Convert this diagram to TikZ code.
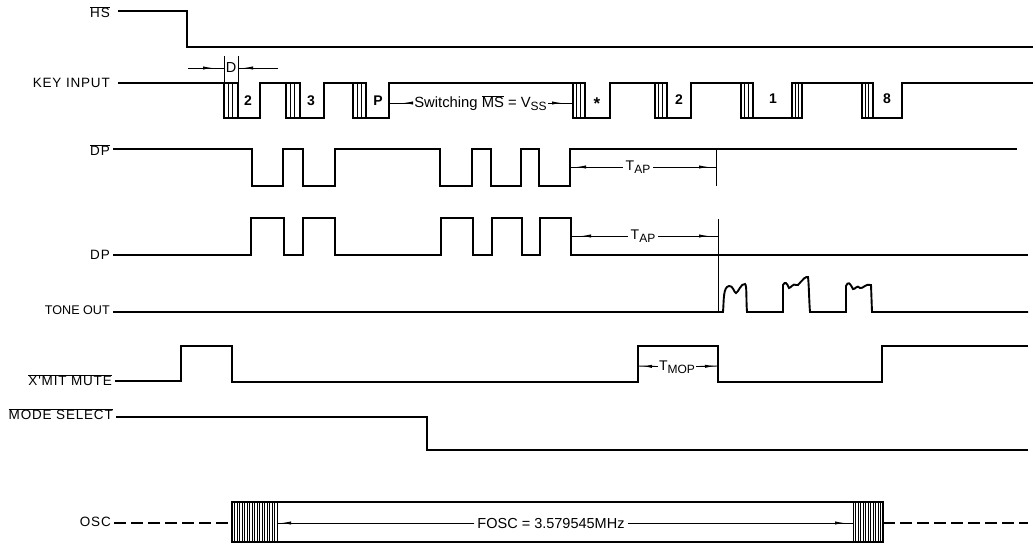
\documentclass[tikz,border=0pt]{standalone}
\usepackage{fontspec}
\setmainfont{Liberation Sans}
\newfontfamily\lblfont[LetterSpace=6]{Liberation Sans}
\usetikzlibrary{arrows.meta,decorations.markings,calc}
\newcommand{\ovl}[1]{$\overline{\hbox{#1}}$}
\newcommand{\lowtxt}[1]{\raisebox{-2.5pt}{\fontsize{12}{12}\selectfont #1}}
\newcommand{\hatchbox}[2]{%
  \draw[wave] (#1,83) rectangle (#2,118);
  \draw[hatch] ($(#1,83)!0.33!(#2,83)$) -- ($(#1,118)!0.33!(#2,118)$);
  \draw[hatch] ($(#1,83)!0.62!(#2,83)$) -- ($(#1,118)!0.62!(#2,118)$);
}
\begin{document}
\begin{tikzpicture}[
              x=1pt, y=-1pt,
              wave/.style={line width=1.9pt, line join=miter},
              thinline/.style={line width=0.9pt},
              hatch/.style={line width=1pt},
              dimline/.style={line width=0.9pt, postaction={decorate},
                decoration={markings, mark=at position #1 with {\arrow{Latex[length=10pt,width=3.2pt]}}}},
              dimline/.default=-6pt,
              lbl/.style={anchor=east, inner xsep=3pt, inner ysep=0pt, font=\fontsize{13.5}{15}\lblfont},
              txt/.style={inner sep=1pt, font=\fontsize{14}{16}\selectfont},
              digit/.style={inner sep=0pt, font=\fontsize{14}{16}\selectfont\bfseries}
            ]
              \useasboundingbox (0,0) rectangle (1033,544);

              % Signal names
              \node[lbl] (lblhs) at (113,12) {\ovl{HS}};
              \node[lbl] (lblkey) at (113,83) {KEY INPUT};
              \node[lbl] (lbldpn) at (113,150) {\ovl{DP}};
              \node[lbl] (lbldp) at (113,255) {DP};
              \node[lbl, font=\fontsize{12.6}{15}\selectfont] (lbltone) at (113,310) {TONE OUT};
              \node[lbl] (lblmute) at (115,380) {\ovl{X'MIT MUTE}};
              \node[lbl] (lblmode) at (116,414) {\ovl{MODE SELECT}};
              \node[lbl] (lblosc) at (114,522) {OSC};

              % Waveforms
              \draw[wave] ([xshift=5pt]lblhs.east |- 0,11) -- (187,11) -- (187,47) -- (1033,47);
              \draw[wave] ([xshift=5pt]lblkey.east) -- (224,83) -- (224,118) -- (260,118) -- (260,83)
                -- (286,83) -- (286,118) -- (324,118) -- (324,83) -- (353,83) -- (353,118) -- (389,118)
                -- (389,83) -- (573,83) -- (573,118) -- (610,118) -- (610,83) -- (655,83) -- (655,118)
                -- (691,118) -- (691,83) -- (741,83) -- (741,118) -- (802,118) -- (802,83) -- (862,83)
                -- (862,118) -- (902,118) -- (902,83) -- (1033,83);
              \draw[wave] (lbldpn.east |- 0,149) -- (252,149) -- (252,186) -- (283,186) -- (283,149)
                -- (303,149) -- (303,186) -- (335,186) -- (335,149) -- (440,149) -- (440,186) -- (472,186)
                -- (472,149) -- (491,149) -- (491,186) -- (521,186) -- (521,149) -- (539,149) -- (539,186)
                -- (570,186) -- (570,149) -- (1017,149);
              \draw[wave] (lbldp.east) -- (251,255) -- (251,218) -- (284,218) -- (284,255) -- (303,255)
                -- (303,218) -- (335,218) -- (335,255) -- (441,255) -- (441,218) -- (473,218) -- (473,255)
                -- (492,255) -- (492,218) -- (522,218) -- (522,255) -- (540,255) -- (540,218) -- (571,218)
                -- (571,255) -- (1028,255);
              \draw[wave] (lbltone.east |- 0,312) -- (723,312)
                .. controls (724,300) and (723,287) .. (729,286)
                .. controls (733,285) and (734,293) .. (736,293)
                .. controls (738,293) and (741,283) .. (745,284)
                .. controls (747,285) and (746,300) .. (747,312) -- (783,312) -- (783,285)
                .. controls (785,281) and (787,283) .. (789,288)
                .. controls (791,288) and (793,283) .. (796,285)
                .. controls (798,288) and (803,276) .. (808,277)
                .. controls (809,285) and (809,300) .. (810,312) -- (846,312) -- (846,286)
                .. controls (848,281) and (850,283) .. (853,289)
                .. controls (855,290) and (857,284) .. (860,288)
                .. controls (863,289) and (866,283) .. (871,285) -- (872,312) -- (1028,312);
              \draw[wave] (lblmute.east |- 0,381) -- (181,381) -- (181,346) -- (232,346) -- (232,382)
                -- (638,382) -- (638,346) -- (718,346) -- (718,382) -- (882,382) -- (882,346) -- (1028,346);
              \draw[wave] (lblmode.east |- 0,417) -- (427,417) -- (427,450) -- (1028,450);

              % Debounce hatching on the key input
              \hatchbox{224}{238}
              \hatchbox{286}{300}
              \hatchbox{353}{366}
              \hatchbox{573}{585}
              \hatchbox{655}{667}
              \hatchbox{741}{753}
              \hatchbox{792}{802}
              \hatchbox{862}{873}

              % Digits under the key input
              \node[digit] (d2) at (248,101) {2};
              \node[digit] (d3) at (311,101) {3};
              \node[digit] (dP) at (378,101) {P};
              \node[digit, font=\fontsize{17}{18}\selectfont\bfseries] (dstar) at (597,104) {*};
              \node[digit] (d2b) at (679,100) {2};
              \node[digit] (d1) at (773,99) {1};
              \node[digit] (d8) at (887,99) {8};

              % Debounce time
              \node[inner sep=0pt, font=\fontsize{14.5}{16}\selectfont] (dlabel) at (231,68) {D};
              \coordinate (dl) at (224,68);
              \coordinate (dr) at (238,68);
              \coordinate (dlout) at (188,68);
              \coordinate (drout) at (278,68);
              \draw[thinline] (224,56) -- (224,83);
              \draw[thinline] (238,56) -- (238,83);
              \draw[dimline=-11pt] (dlout) -- (dl);
              \draw[dimline=-5pt] (drout) -- (dr);

              % Switching span
              \node[txt, font=\fontsize{14.8}{16}\selectfont] (switching) at (480.5,103) {Switching \ovl{MS} = V\lowtxt{SS}};
              \coordinate (swl) at (389,103);
              \coordinate (swr) at (573,103);
              \draw[dimline=-14pt] (switching) -- (swl);
              \draw[dimline=-11pt] (switching) -- (swr);

              % Tone delay spans
              \node[txt, inner xsep=3pt] (tapa) at (638,167) {T\lowtxt{AP}};
              \coordinate (tapal) at (570,167);
              \coordinate (tapar) at (716,167);
              \draw[dimline=-6pt] (tapa) -- (tapal);
              \draw[dimline=-7pt] (tapa) -- (tapar);
              \draw[thinline] (716,149) -- (716,186);

              \node[txt, inner xsep=3pt] (tapb) at (643,236) {T\lowtxt{AP}};
              \coordinate (tapbl) at (571,236);
              \coordinate (tapbr) at (718,236);
              \draw[dimline=-10pt] (tapb) -- (tapbl);
              \draw[dimline=-9pt] (tapb) -- (tapbr);
              \draw[thinline] (718,219) -- (718,312);

              \node[txt] (tmop) at (677,367) {T\lowtxt{MOP}};
              \coordinate (tmopl) at (638,366);
              \coordinate (tmopr) at (718,366);
              \draw[dimline=-4pt] (tmop) -- (tmopl);
              \draw[dimline=-3pt] (tmop) -- (tmopr);

              % Oscillator
              \draw[wave] (232,502) rectangle (883,542);
              \foreach \hx in {232,234.5,...,277} {\draw[hatch] (\hx,502) -- (\hx,542);}
              \foreach \hx in {853,855.5,...,883} {\draw[hatch] (\hx,502) -- (\hx,542);}
              \draw[wave, dash pattern=on 12pt off 5pt] (lblosc.east |- 0,523) -- (232,523);
              \draw[wave, dash pattern=on 12pt off 5pt] (883,523) -- (1028,523);
              \node[inner sep=3pt, font=\fontsize{14.5}{16}\selectfont] (fosc) at (551,523) {FOSC = 3.579545MHz};
              \coordinate (foscl) at (277,523);
              \coordinate (foscr) at (853,523);
              \draw[dimline=-4pt] (fosc) -- (foscl);
              \draw[dimline=-8pt] (fosc) -- (foscr);
            \end{tikzpicture}
\end{document}
